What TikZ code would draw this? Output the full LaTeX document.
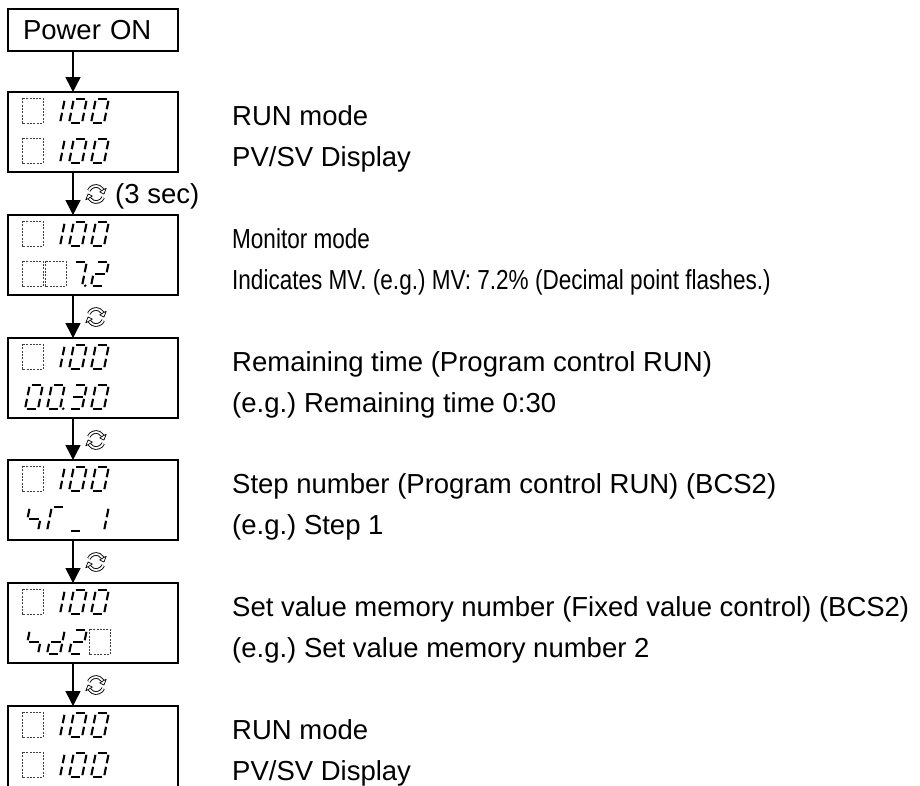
\documentclass[tikz,border=0pt]{standalone}
\usepackage{fontspec}
\setmainfont{Liberation Sans}
\usetikzlibrary{arrows.meta}
\frenchspacing
\tikzset{
  boxline/.style={line width=2.2pt},
  dispbox/.style={draw, boxline, rectangle, anchor=north west, minimum width=170pt, minimum height=80pt, inner sep=0pt, outer sep=0pt},
  pwbox/.style={draw, boxline, rectangle, anchor=north west, text width=140pt, align=left, inner xsep=15pt, inner ysep=0pt, minimum height=42pt, outer sep=0pt, font=\fontsize{27.5}{33}\selectfont},
  flowarrow/.style={line width=1.5pt, -{Triangle[width=15pt,length=15pt]}},
  lbl/.style={font=\fontsize{27.5}{33}\selectfont, anchor=base west, inner sep=0pt},
  seg/.style={line width=2.1pt},
  blank/.style={draw=black!75, line width=0.8pt, dash pattern=on 2pt off 1.3pt},
  cyclesym/.pic={
    \draw[line width=3.6pt] (25:8) arc (25:150:8);
    \draw[line width=3.6pt] (205:8) arc (205:330:8);
    \draw[white, line width=1.8pt] (25:8) arc (25:150:8);
    \draw[white, line width=1.8pt] (205:8) arc (205:330:8);
    \draw[line width=0.7pt, fill=white, line join=round] (150:4.2) -- (150:11.8) -- (180:8) -- cycle;
    \draw[line width=0.7pt, fill=white, line join=round] (330:4.2) -- (330:11.8) -- (360:8) -- cycle;
  }
}
% seven-segment pieces (local coords, y up)
\newcommand\dsega{\draw[seg] (2.8,24)--(12.2,24);}
\newcommand\dsegb{\draw[seg] (14,22.2)--(14,13.8);}
\newcommand\dsegc{\draw[seg] (14,10.2)--(14,1.8);}
\newcommand\dsegd{\draw[seg] (2.8,0)--(12.2,0);}
\newcommand\dsege{\draw[seg] (1,10.2)--(1,1.8);}
\newcommand\dsegf{\draw[seg] (1,22.2)--(1,13.8);}
\newcommand\dsegg{\draw[seg] (2.8,12)--(12.2,12);}
\newcommand\dsegp{\fill (17.2,0.3) circle (1.4);}
\newcommand\digit[3]{%
  \begin{scope}[shift={(#1,#2)}, xslant=0.2, yscale=-1]
    \foreach \s in {#3} {\csname dseg\s\endcsname}
  \end{scope}}
\newcommand\blankcell[2]{\draw[blank] (#1,#2-25) rectangle (#1+21,#2);}
\newcommand\hundredrow[1]{%
  \blankcell{22}{#1}%
  \digit{46}{#1}{b,c}%
  \digit{68}{#1}{a,b,c,d,e,f}%
  \digit{90}{#1}{a,b,c,d,e,f}}

\begin{document}
\begin{tikzpicture}[x=1pt,y=-1pt]
\useasboundingbox (0,0) rectangle (920,785);
\coordinate (ax) at (73,0);

% boxes
\node[pwbox] (pw) at (8,9) {Power ON};
\node[dispbox] (b0) at (8,92) {};
\node[dispbox] (b1) at (8,215) {};
\node[dispbox] (b2) at (8,338) {};
\node[dispbox] (b3) at (8,460) {};
\node[dispbox] (b4) at (8,583) {};
\node[dispbox, draw=none, minimum height=82pt] (b5) at (8,706) {};
\draw[boxline] (b5.south west) -- (b5.north west) -- (b5.north east) -- (b5.south east);

% arrows
\draw[flowarrow] (pw.south -| ax) -- (b0.north -| ax);
\draw[flowarrow] (b0.south -| ax) -- (b1.north -| ax);
\draw[flowarrow] (b1.south -| ax) -- (b2.north -| ax);
\draw[flowarrow] (b2.south -| ax) -- (b3.north -| ax);
\draw[flowarrow] (b3.south -| ax) -- (b4.north -| ax);
\draw[flowarrow] (b4.south -| ax) -- (b5.north -| ax);

% cycle symbols
\pic at (96,194) {cyclesym};
\pic at (96,317) {cyclesym};
\pic at (96,440) {cyclesym};
\pic at (96,562) {cyclesym};
\pic at (96,685) {cyclesym};
\node[lbl] (sec) at (115,203) {(3 sec)};

% displays
\hundredrow{123}\hundredrow{163}
\hundredrow{246}
\blankcell{22}{286}\blankcell{45}{286}
\digit{68}{286}{a,b,c,p}\digit{90}{286}{a,b,g,e,d}
\hundredrow{369}
\digit{24}{409}{a,b,c,d,e,f}\digit{46}{409}{a,b,c,d,e,f,p}
\digit{68}{409}{a,b,g,c,d}\digit{90}{409}{a,b,c,d,e,f}
\hundredrow{491}
\digit{24}{531}{f,g,c}\digit{46}{531}{a,f,e}
\digit{68}{531}{d}\digit{90}{531}{b,c}
\hundredrow{614}
\digit{24}{654}{f,g,c}\digit{46}{654}{b,c,d,e,g}
\digit{68}{654}{a,b,g,e,d}\blankcell{89}{654}
\hundredrow{737}\hundredrow{777}

% descriptions
\node[lbl] (t0a) at (232,125) {RUN mode};
\node[lbl] (t0b) at (232,166) {PV/SV Display};
\node[lbl, xscale=0.82] (t1a) at (232,248) {Monitor mode};
\node[lbl, xscale=0.82] (t1b) at (232,289) {Indicates MV. (e.g.) MV: 7.2\% (Decimal point flashes.)};
\node[lbl] (t2a) at (232,371) {Remaining time (Program control RUN)};
\node[lbl] (t2b) at (232,412) {(e.g.) Remaining time 0:30};
\node[lbl] (t3a) at (232,493) {Step number (Program control RUN) (BCS2)};
\node[lbl] (t3b) at (232,534) {(e.g.) Step 1};
\node[lbl] (t4a) at (232,616) {Set value memory number (Fixed value control) (BCS2)};
\node[lbl] (t4b) at (232,657) {(e.g.) Set value memory number 2};
\node[lbl] (t5a) at (232,739) {RUN mode};
\node[lbl] (t5b) at (232,780) {PV/SV Display};
\end{tikzpicture}
\end{document}
